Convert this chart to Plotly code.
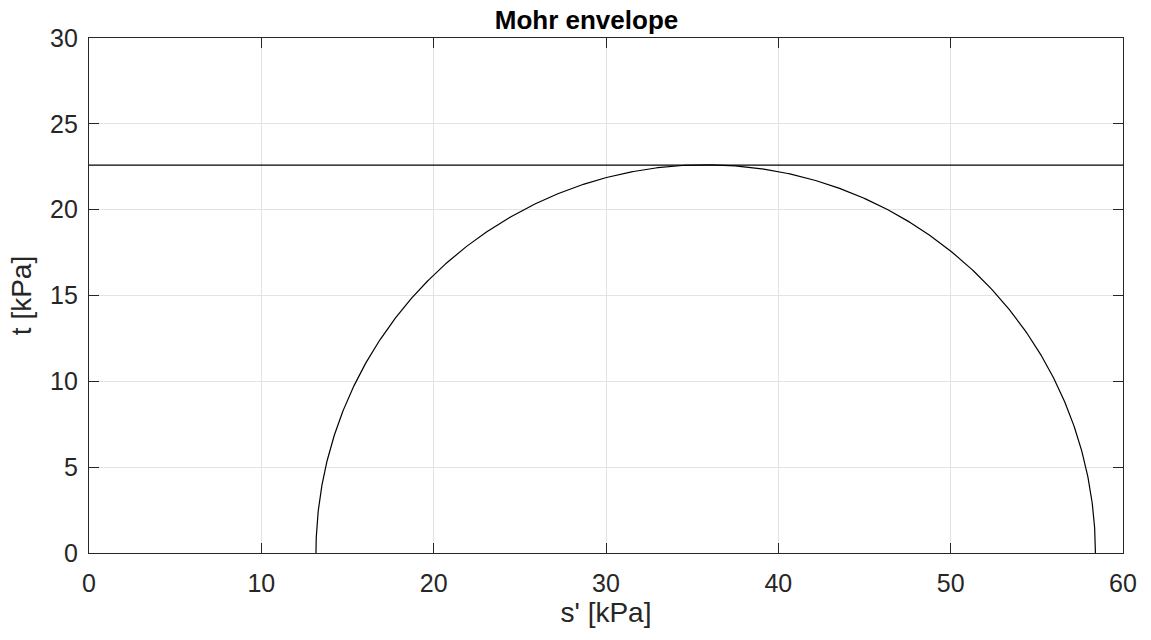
import numpy as np
import plotly.graph_objects as go

# Principal effective stresses (kPa)
sigma3 = 13.17
sigma1 = 58.4
# Undrained strength envelope (kPa)
t_env = 22.6
env_s = [0, 60]

x_ticks = [0, 10, 20, 30, 40, 50, 60]
y_ticks = [0, 5, 10, 15, 20, 25, 30]

s_c = (sigma1 + sigma3) / 2
r = (sigma1 - sigma3) / 2
theta = np.linspace(0, np.pi, 600)
circ_s = s_c + r * np.cos(theta)
circ_t = r * np.sin(theta)

FONT = "Liberation Sans, Arial, Helvetica, sans-serif"

fig = go.Figure()
fig.add_trace(go.Scatter(x=env_s, y=[t_env, t_env], mode="lines",
                         line=dict(color="black", width=1.2), showlegend=False))
fig.add_trace(go.Scatter(x=circ_s, y=circ_t, mode="lines",
                         line=dict(color="black", width=1.2), showlegend=False))

axis_common = dict(
    showline=True, linecolor="#262626", linewidth=1.2, mirror="allticks",
    ticks="inside", ticklen=10, tickcolor="#262626", tickwidth=1,
    showgrid=True, gridcolor="#e3e3e3", gridwidth=1, zeroline=False,
    tickfont=dict(family=FONT, size=25, color="#262626"),
)

fig.update_layout(
    width=1151, height=640,
    paper_bgcolor="white", plot_bgcolor="white",
    margin=dict(l=88.5, r=28, t=38, b=86.5),
    title=dict(text="<b>Mohr envelope</b>", x=586.5 / 1151, xref="container", xanchor="center",
               y=1 - 20 / 640, yref="container", yanchor="middle",
               font=dict(family=FONT, size=26, color="black")),
    xaxis=dict(range=[0, 60], tickvals=x_ticks, ticklabelstandoff=8,
               title=dict(text="s' [kPa]", standoff=6,
                          font=dict(family=FONT, size=28, color="#262626")),
               **axis_common),
    yaxis=dict(range=[0, 30], tickvals=y_ticks, ticklabelstandoff=5,
               title=dict(text="t [kPa]", standoff=10,
                          font=dict(family=FONT, size=28, color="#262626")),
               **axis_common),
)

fig.write_html("out.html")
